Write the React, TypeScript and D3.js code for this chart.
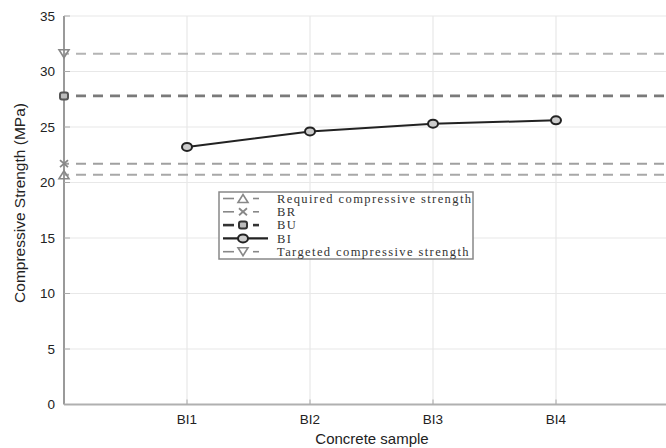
import React from "react";
import * as d3 from "d3";

const categories = ["BI1", "BI2", "BI3", "BI4"];
const biValues = [23.2, 24.6, 25.3, 25.6];
const yTicks = [0, 5, 10, 15, 20, 25, 30, 35];
const refNames = ["Required compressive strength", "BR", "BU", "Targeted compressive strength"];
const refValues = [20.7, 21.7, 27.8, 31.6];
const legendLabels = ["Required compressive strength", "BR", "BU", "BI", "Targeted compressive strength"];

const W = 666;
const H = 448;

function Marker({ kind, x, y, color }: { kind: string; x: number; y: number; color: string }) {
  if (kind === "triUp") {
    return <path d={`M${x - 5},${y + 4} L${x + 5},${y + 4} L${x},${y - 4} Z`} fill="none" stroke={color} strokeWidth={1.6} />;
  }
  if (kind === "triDown") {
    return <path d={`M${x - 5},${y - 4} L${x + 5},${y - 4} L${x},${y + 4} Z`} fill="none" stroke={color} strokeWidth={1.6} />;
  }
  if (kind === "x") {
    return (
      <g stroke={color} strokeWidth={1.8}>
        <line x1={x - 4} y1={y - 3.5} x2={x + 4} y2={y + 3.5} />
        <line x1={x - 4} y1={y + 3.5} x2={x + 4} y2={y - 3.5} />
      </g>
    );
  }
  if (kind === "square") {
    return <rect x={x - 4} y={y - 3.5} width={8} height={7} rx={2} fill="#bbb" stroke={color} strokeWidth={2} />;
  }
  return <ellipse cx={x} cy={y} rx={5} ry={4} fill="#ccc" stroke={color} strokeWidth={2} />;
}

export default function App() {
  const x = d3.scaleLinear().domain([0, 5]).range([64, 679]);
  const y = d3.scaleLinear().domain([0, 35]).range([404.5, 16]);

  const refStyles = [
    { color: "#a8a8a8", width: 2, kind: "triUp" },
    { color: "#a0a0a0", width: 2, kind: "x" },
    { color: "#7a7a7a", width: 2.6, kind: "square" },
    { color: "#b4b4b4", width: 2, kind: "triDown" },
  ];

  const line = d3
    .line<number>()
    .x((_, i) => x(i + 1))
    .y((d) => y(d));

  const legendStyles = [
    { color: "#888", width: 1.6, kind: "triUp", dash: true },
    { color: "#888", width: 1.6, kind: "x", dash: true },
    { color: "#333", width: 2.6, kind: "square", dash: true },
    { color: "#222", width: 2.2, kind: "circle", dash: false },
    { color: "#888", width: 1.6, kind: "triDown", dash: true },
  ];

  const lx = 219, ly = 192, lw = 254, lh = 67;

  return (
    <svg width={W} height={H} style={{ position: "absolute", left: 0, top: 0, background: "#fff" }}>
      {yTicks.map((t) => (
        <line key={"gy" + t} x1={64} x2={W} y1={y(t)} y2={y(t)} stroke="#e8e8e8" strokeWidth={1.2} />
      ))}
      {categories.map((c, i) => (
        <line key={"gx" + c} x1={x(i + 1)} x2={x(i + 1)} y1={y(35)} y2={y(0)} stroke="#e8e8e8" strokeWidth={1.2} />
      ))}
      {refValues.map((v, i) => (
        <line
          key={"r" + i}
          x1={64}
          x2={W}
          y1={y(v)}
          y2={y(v)}
          stroke={refStyles[i].color}
          strokeWidth={refStyles[i].width}
          strokeDasharray="10,7"
          strokeDashoffset={-12}
        />
      ))}
      <line x1={64} x2={64} y1={y(35)} y2={y(0)} stroke="#9a9a9a" strokeWidth={2} />
      <line x1={64} x2={W} y1={y(0)} y2={y(0)} stroke="#b0b0b0" strokeWidth={2} />
      {yTicks.map((t) => (
        <g key={"ty" + t}>
          <line x1={64} x2={70} y1={y(t)} y2={y(t)} stroke="#aaa" strokeWidth={1} />
          <text x={55} y={y(t)} dy="0.35em" textAnchor="end" fontFamily="Liberation Sans, Arial, sans-serif" fontSize={13.5} fill="#222">
            {t}
          </text>
        </g>
      ))}
      {categories.map((c, i) => (
        <g key={"tx" + c}>
          <line x1={x(i + 1)} x2={x(i + 1)} y1={y(0)} y2={y(0) - 5} stroke="#aaa" strokeWidth={1} />
          <text x={x(i + 1)} y={419} dy="0.35em" textAnchor="middle" fontFamily="Liberation Sans, Arial, sans-serif" fontSize={13.5} fill="#222">
            {c}
          </text>
        </g>
      ))}
      {refValues.map((v, i) => (
        <Marker key={"rm" + i} kind={refStyles[i].kind} x={64} y={y(v)} color={i === 2 ? "#555" : "#888"} />
      ))}
      <path d={line(biValues) || ""} fill="none" stroke="#222" strokeWidth={2} />
      {biValues.map((v, i) => (
        <Marker key={"bi" + i} kind="circle" x={x(i + 1)} y={y(v)} color="#222" />
      ))}
      <text x={372} y={439} dy="0.35em" textAnchor="middle" fontFamily="Liberation Sans, Arial, sans-serif" fontSize={15} fill="#222">
        Concrete sample
      </text>
      <text
        transform={`translate(20,203) rotate(-90)`}
        textAnchor="middle"
        dy="0.35em"
        fontFamily="Liberation Sans, Arial, sans-serif"
        fontSize={15.5}
        fill="#222"
      >
        Compressive Strength (MPa)
      </text>
      <rect x={lx} y={ly} width={lw} height={lh} fill="#fff" stroke="#888" strokeWidth={1.5} />
      {legendLabels.map((lab, i) => {
        const ry = 198.5 + i * 13.3;
        const st = legendStyles[i];
        return (
          <g key={"lg" + i}>
            {st.dash ? (
              <g stroke={st.color} strokeWidth={st.width}>
                <line x1={223} x2={234} y1={ry} y2={ry} />
                <line x1={253} x2={259} y1={ry} y2={ry} />
              </g>
            ) : (
              <line x1={223} x2={268} y1={ry} y2={ry} stroke={st.color} strokeWidth={st.width} />
            )}
            <Marker kind={st.kind} x={243} y={ry} color={st.color} />
            <text x={277} y={ry} dy="0.35em" fontFamily="Liberation Serif, Times New Roman, serif" fontSize={12.5} letterSpacing={1.4} fill="#333">
              {lab}
            </text>
          </g>
        );
      })}
    </svg>
  );
}
